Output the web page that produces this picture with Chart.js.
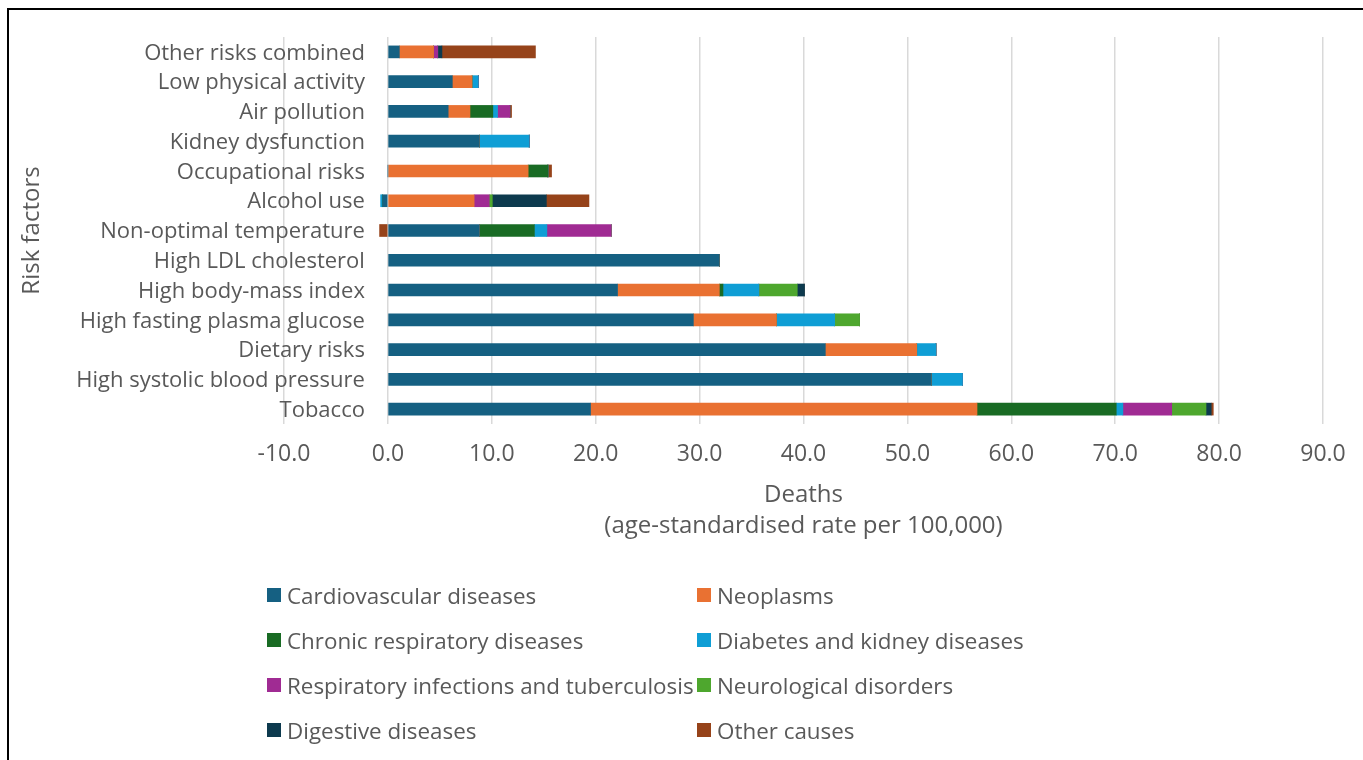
<!DOCTYPE html>
<html>
<head>
<meta charset="utf-8">
<script src="https://cdn.jsdelivr.net/npm/chart.js@4"></script>
<style>
  html, body { margin: 0; padding: 0; background: #fff; overflow: hidden; }
  body { width: 1363px; height: 760px; position: relative; font-family: "Open Sans", sans-serif; }
  #frame { position: absolute; left: 7px; top: 8px; width: 1400px; height: 800px; border: 2px solid #000; box-sizing: border-box; pointer-events: none; }
  #wrap { position: absolute; left: 0; top: 0; width: 1363px; height: 542px; }
  #legend { position: absolute; left: 0; top: 0; width: 1363px; height: 760px; pointer-events: none; }
  .item { position: absolute; display: flex; align-items: center; font-size: 22.4px; color: #595959; white-space: nowrap; height: 28px; }
  .item span.box { width: 14px; height: 14px; margin-right: 6px; display: inline-block; }
</style>
</head>
<body>
<div id="wrap"><canvas id="riskChart"></canvas></div>
<div id="legend"></div>
<div id="frame"></div>
<script>
// Risk factors, top to bottom
const riskFactors = [
  'Other risks combined', 'Low physical activity', 'Air pollution', 'Kidney dysfunction',
  'Occupational risks', 'Alcohol use', 'Non-optimal temperature', 'High LDL cholesterol',
  'High body-mass index', 'High fasting plasma glucose', 'Dietary risks',
  'High systolic blood pressure', 'Tobacco'
];

// Deaths per cause (age-standardised rate per 100,000)
const cardiovascular = [1.1, 6.2, 5.8, 8.8, 0, -0.5, 8.8, 31.9, 22.1, 29.4, 42.1, 52.3, 19.5];
const neoplasms      = [3.3, 1.9, 2.1, 0, 13.5, 8.3, 0, 0, 9.8, 8.0, 8.8, 0, 37.2];
const chronicResp    = [0, 0, 2.2, 0, 1.9, 0, 5.3, 0, 0.35, 0, 0, 0, 13.4];
const diabetesKidney = [0, 0.6, 0.45, 4.8, 0, -0.2, 1.2, 0, 3.45, 5.6, 1.85, 3.0, 0.64];
const respInfections = [0.4, 0, 1.2, 0, 0, 1.45, 6.2, 0, 0, 0, 0, 0, 4.7];
const neurological   = [0, 0, 0, 0, 0, 0.3, 0, 0, 3.7, 2.4, 0, 0, 3.3];
const digestive      = [0.4, 0, 0, 0, 0, 5.2, 0, 0, 0.7, 0, 0, 0, 0.5];
const otherCauses    = [9.0, 0, 0.15, 0, 0.35, 4.1, -0.8, 0, 0, 0, 0, 0, 0.2];

const causeNames = [
  'Cardiovascular diseases', 'Neoplasms', 'Chronic respiratory diseases',
  'Diabetes and kidney diseases', 'Respiratory infections and tuberculosis',
  'Neurological disorders', 'Digestive diseases', 'Other causes'
];
const causeValues = [cardiovascular, neoplasms, chronicResp, diabetesKidney,
  respInfections, neurological, digestive, otherCauses];
const causeColors = ['#156082', '#E97132', '#196B24', '#0F9ED5',
  '#A02B93', '#4EA72E', '#0D3A4E', '#96431A'];

// x axis ticks
const xMin = -10, xMax = 90, xStep = 10;

const textColor = '#595959';
const fontFamily = '"Open Sans", sans-serif';

const datasets = causeNames.map((name, i) => ({
  label: name,
  data: causeValues[i],
  backgroundColor: causeColors[i],
  borderWidth: 0,
  barThickness: 12
}));

// Category labels sit next to the zero line, over the negative part of the plot (Excel style)
const categoryLabels = {
  id: 'categoryLabels',
  afterDraw(chart) {
    const { ctx, scales: { x, y } } = chart;
    const x0 = x.getPixelForValue(0) - 23;
    ctx.save();
    ctx.font = '22px ' + fontFamily;
    ctx.fillStyle = textColor;
    ctx.textAlign = 'right';
    ctx.textBaseline = 'middle';
    riskFactors.forEach((name, i) => ctx.fillText(name, x0, y.getPixelForTick(i) + 1.5));
    ctx.restore();
  }
};

const ctx = document.getElementById('riskChart').getContext('2d');
new Chart(ctx, {
  type: 'bar',
  data: { labels: riskFactors, datasets: datasets },
  plugins: [categoryLabels],
  options: {
    indexAxis: 'y',
    responsive: true,
    maintainAspectRatio: false,
    animation: false,
    layout: { padding: { left: 10, top: 37, right: 40, bottom: 0 } },
    plugins: {
      legend: { display: false },
      tooltip: { enabled: false }
    },
    scales: {
      x: {
        stacked: true,
        min: xMin,
        max: xMax,
        ticks: {
          stepSize: xStep,
          padding: 17,
          color: textColor,
          font: { family: fontFamily, size: 23 },
          callback: v => Number(v).toFixed(1)
        },
        grid: { color: '#d9d9d9', lineWidth: 1.5, drawTicks: false },
        border: { display: false },
        title: {
          display: true,
          text: ['Deaths', '(age-standardised rate per 100,000)'],
          color: textColor,
          font: { family: fontFamily, size: 24, lineHeight: 1.3 },
          padding: { top: 0, bottom: 0 }
        },
        afterFit: s => { s.height = 118; }
      },
      y: {
        stacked: true,
        grid: { display: false },
        border: { display: false },
        ticks: { display: false },
        title: {
          display: true,
          text: 'Risk factors',
          color: textColor,
          font: { family: fontFamily, size: 24 },
          padding: { top: 7.6, bottom: 0 }
        },
        afterFit: s => { s.width = 274; }
      }
    }
  }
});

// Legend in two columns
const legend = document.getElementById('legend');
causeNames.forEach((name, i) => {
  const el = document.createElement('div');
  el.className = 'item';
  el.style.left = (i % 2 === 0 ? 267 : 697) + 'px';
  el.style.top = (596 + Math.floor(i / 2) * 45 - 15) + 'px';
  el.innerHTML = '<span class="box" style="background:' + causeColors[i] + '"></span>' + name;
  legend.appendChild(el);
});
</script>
</body>
</html>
